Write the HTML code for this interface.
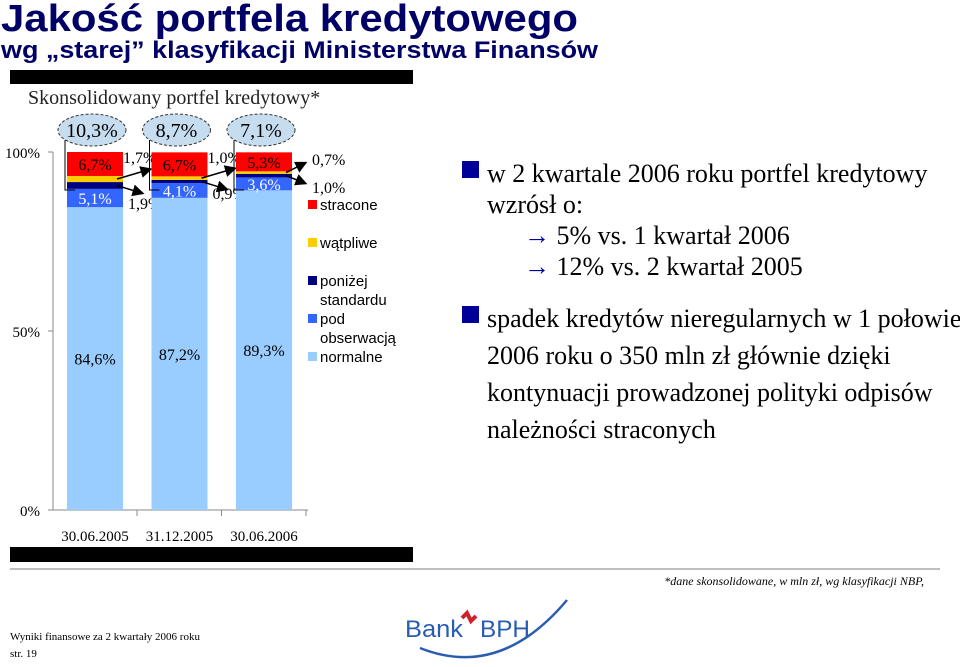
<!DOCTYPE html>
<html><head><meta charset="utf-8"><style>
body{margin:0;background:#fff;width:960px;height:667px;overflow:hidden}
svg{display:block}
.t{font-family:"Liberation Serif",serif}
.s{font-family:"Liberation Sans",sans-serif}
</style></head><body>
<svg id="c" width="960" height="667" viewBox="0 0 960 667">
<text x="1" y="31" class="s" font-size="38" font-weight="bold" fill="#000066" textLength="577" lengthAdjust="spacingAndGlyphs">Jakość portfela kredytowego</text>
<text x="1" y="58" class="s" font-size="24" font-weight="bold" fill="#000066" textLength="597" lengthAdjust="spacingAndGlyphs">wg „starej” klasyfikacji Ministerstwa Finansów</text>
<rect x="10" y="70" width="403" height="14" fill="#000"/>
<text x="28" y="104" class="t" font-size="20" fill="#222">Skonsolidowany portfel kredytowy*</text>
<g id="axes"></g>
<g id="bars"></g>
<g id="legend"></g>
<rect x="10" y="547" width="403" height="15" fill="#000"/>
<line x1="10" y1="569" x2="940" y2="569" stroke="#aaa" stroke-width="1.5"/>
<text x="924" y="585" text-anchor="end" class="t" font-size="12" font-style="italic">*dane skonsolidowane, w mln zł, wg klasyfikacji NBP,</text>
<text x="10" y="640" class="t" font-size="11">Wyniki finansowe za 2 kwartały 2006 roku</text>
<text x="10" y="657" class="t" font-size="11">str. 19</text>
<g>
<text x="405" y="637" class="s" font-size="24" fill="#2a5db0" textLength="58" lengthAdjust="spacingAndGlyphs">Bank</text>
<path d="M462 618 l5 -5 l4 8 l5 -5" stroke="#d0202a" stroke-width="4" fill="none"/>
<text x="480" y="637" class="s" font-size="24" fill="#2a5db0" textLength="50" lengthAdjust="spacingAndGlyphs">BPH</text>
<path d="M420 648 Q500 680 567 600" stroke="#2a5db0" stroke-width="2.5" fill="none"/>
</g>
<g class="t" font-size="26" fill="#000">
<rect x="462" y="161" width="17" height="17" fill="#000099"/>
<text x="487" y="182">w 2  kwartale 2006 roku portfel kredytowy</text>
<text x="487" y="213">wzrósł o:</text>
<text x="524" y="244"><tspan fill="#000099">→</tspan> 5% vs. 1 kwartał 2006</text>
<text x="524" y="275"><tspan fill="#000099">→</tspan> 12% vs. 2 kwartał 2005</text>
<rect x="462" y="306" width="17" height="17" fill="#000099"/>
<text x="487" y="327">spadek kredytów nieregularnych w 1 połowie</text>
<text x="487" y="364">2006 roku o 350 mln zł głównie dzięki</text>
<text x="487" y="401">kontynuacji prowadzonej polityki odpisów</text>
<text x="487" y="438">należności straconych</text>
</g>
</svg>
<script>
const categories=["30.06.2005","31.12.2005","30.06.2006"];
const normalne=[84.6,87.2,89.3];
const podObserwacja=[5.1,4.1,3.6];
const ponizej=[1.9,0.9,1.0];
const watpliwe=[1.7,1.0,0.7];
const stracone=[6.7,6.7,5.3];
const totals=["10,3%","8,7%","7,1%"];
const yTicks=[0,50,100];
const seriesNames=["stracone","wątpliwe","poniżej standardu","pod obserwacją","normalne"];
const NS="http://www.w3.org/2000/svg";
const y0=510,y1=152,x0=53,bw=56,step=84.5,bStart=67;
const Y=v=>y0-(y0-y1)*v/100;
const X=i=>bStart+i*step;
const fmt=v=>v.toFixed(1).replace('.',',')+'%';
function mk(p,tag,a,txt){const e=document.createElementNS(NS,tag);for(const k in a)e.setAttribute(k,a[k]);if(txt!=null)e.textContent=txt;p.appendChild(e);return e;}
const axes=document.getElementById('axes'),bars=document.getElementById('bars'),leg=document.getElementById('legend');
const defs=mk(document.getElementById('c'),'defs',{});
const mar=mk(defs,'marker',{id:'ah',markerWidth:8,markerHeight:8,refX:7,refY:4,orient:'auto'});
mk(mar,'path',{d:'M0,0 L8,4 L0,8 z',fill:'#000'});
let ax=mk(axes,'line',{x1:x0,y1:y1,x2:x0,y2:y0,stroke:'#888'});

let xa=mk(axes,'line',{x1:x0,y1:y0,x2:308,y2:y0,stroke:'#888'});

yTicks.forEach(t=>{mk(axes,'line',{x1:x0-5,y1:Y(t),x2:x0,y2:Y(t),stroke:'#888'});
 const e=mk(axes,'text',{x:40,y:Y(t)+6,'text-anchor':'end','font-size':15,class:'t'},t+'%');
 });
categories.forEach((c,i)=>{
 const e=mk(axes,'text',{x:X(i)+28,y:541,'text-anchor':'middle','font-size':15,class:'t'},c);
 
 mk(axes,'line',{x1:X(i)+bw+14,y1:y0,x2:X(i)+bw+14,y2:y0+6,stroke:'#888'});
 const segs=[[normalne[i],'#99ccff','bar-normalne'],[podObserwacja[i],'#3366ff','bar-pod-obserwacja'],[ponizej[i],'#000080','bar-ponizej-standardu'],[watpliwe[i],'#ffcc00','bar-watpliwe'],[stracone[i],'#ff0000','bar-stracone']];
 let acc=0;const mids=[];
 segs.forEach(s=>{const r=mk(bars,'rect',{x:X(i),y:Y(acc+s[0]),width:bw,height:Y(acc)-Y(acc+s[0]),fill:s[1]});
  
  mids.push(Y(acc+s[0]/2));acc+=s[0];});
 const cx=X(i)+bw/2;
 let l=mk(bars,'text',{x:cx,y:Y(acc-stracone[i]/2)+6,'text-anchor':'middle','font-size':16,class:'t'},fmt(stracone[i]));
 
 l=mk(bars,'text',{x:cx,y:mids[1]+6,'text-anchor':'middle','font-size':16,fill:'#fff',class:'t'},fmt(podObserwacja[i]));
 
 l=mk(bars,'text',{x:cx,y:y0-(y0-y1)*normalne[i]/200+6,'text-anchor':'middle','font-size':16,class:'t'},fmt(normalne[i]));
 
 const xr=X(i)+bw;
 const last=i==2;
 mk(bars,'line',{x1:xr-6,y1:mids[3],x2:last?xr+14:xr+28,y2:mids[3]-10,stroke:'#000','stroke-width':1.5,'marker-end':'url(#ah)'});
 mk(bars,'line',{x1:xr-6,y1:mids[2],x2:last?xr+14:xr+20,y2:mids[2]+8,stroke:'#000','stroke-width':1.5,'marker-end':'url(#ah)'});
 l=mk(bars,'text',{x:last?xr+20:xr,y:last?165:163,'font-size':16,class:'t'},fmt(watpliwe[i]));
 
 l=mk(bars,'text',{x:last?xr+20:xr+5,y:last?193:(i==0?209:199),'font-size':16,class:'t'},fmt(ponizej[i]));
 
 const ex=X(i)+25;
 const el=mk(bars,'ellipse',{cx:ex,cy:130,rx:34,ry:16,fill:'#c6dcef',stroke:'#333','stroke-dasharray':'3,2'});
 
 l=mk(bars,'text',{x:ex,y:137,'text-anchor':'middle','font-size':20,class:'t'},totals[i]);
 
 mk(bars,'polyline',{points:`${ex-27},${140} ${ex-27},${190} ${X(i)+8},${190}`,fill:'none',stroke:'#000'});
});
const lcol=['#ff0000','#ffcc00','#000080','#3366ff','#99ccff'];
const lyy=[210,248,286,324,362];
seriesNames.forEach((n,k)=>{
 const r=mk(leg,'rect',{x:308,y:lyy[k]-10,width:9,height:9,fill:lcol[k]});
 
 const parts=k==2?['poniżej','standardu']:k==3?['pod','obserwacją']:[n];
 parts.forEach((p,j)=>{const t=mk(leg,'text',{x:320,y:lyy[k]+j*19,'font-size':15,class:'s'},p);
  });
});
</script>
</body></html>
